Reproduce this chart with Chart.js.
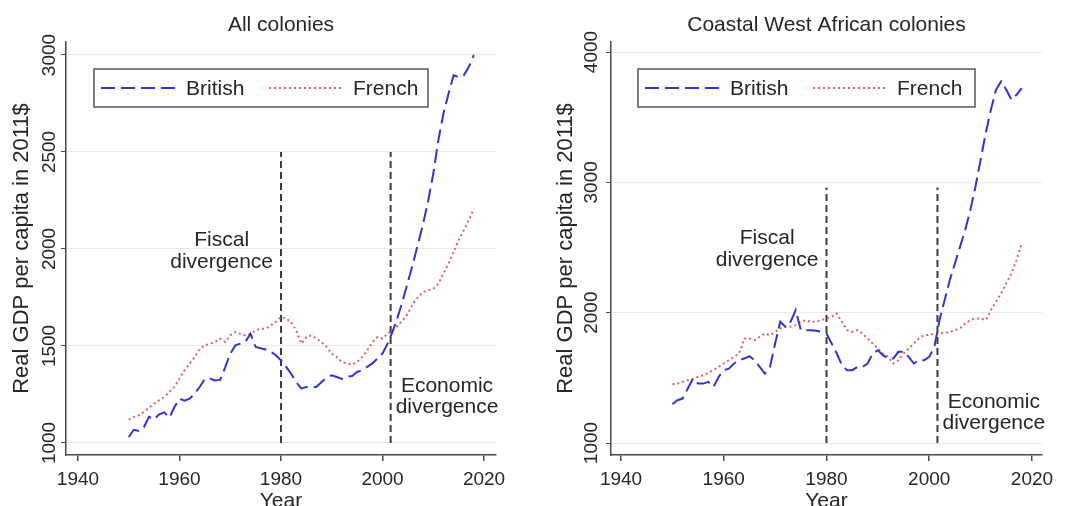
<!DOCTYPE html>
<html>
<head>
<meta charset="utf-8">
<script src="https://cdn.jsdelivr.net/npm/chart.js@4"></script>
<style>
  html, body { margin: 0; padding: 0; background: #fff; overflow: hidden; }
  #wrap { position: relative; width: 1067px; height: 506px; overflow: hidden; }
  canvas { position: absolute; top: 0; display: block; }
</style>
</head>
<body>
<div id="wrap">
  <canvas id="c1" width="533" height="520" style="left:0px"></canvas>
  <canvas id="c2" width="534" height="520" style="left:533px"></canvas>
</div>
<script>
// ---------------- data ----------------
const years = [1950,1951,1952,1953,1954,1955,1956,1957,1958,1959,
               1960,1961,1962,1963,1964,1965,1966,1967,1968,1969,
               1970,1971,1972,1973,1974,1975,1976,1977,1978,1979,
               1980,1981,1982,1983,1984,1985,1986,1987,1988,1989,
               1990,1991,1992,1993,1994,1995,1996,1997,1998,1999,
               2000,2001,2002,2003,2004,2005,2006,2007,2008,2009,
               2010,2011,2012,2013,2014,2015,2016,2017,2018];

const allBritish = [1031,1068,1062,1082,1135,1122,1148,1158,1130,1185,
                    1228,1218,1228,1254,1290,1330,1332,1322,1325,1390,
                    1460,1503,1512,1522,1563,1495,1488,1482,1470,1452,
                    1426,1392,1357,1314,1280,1289,1285,1290,1314,1338,
                    1349,1340,1330,1342,1345,1366,1376,1392,1410,1435,
                    1462,1512,1575,1650,1735,1830,1924,2027,2130,2250,
                    2388,2560,2697,2800,2895,2886,2895,2938,3000];

const allFrench = [1120,1134,1143,1160,1182,1203,1220,1237,1263,1289,
                   1332,1375,1409,1443,1486,1503,1512,1520,1538,1520,
                   1555,1572,1563,1555,1563,1580,1589,1589,1606,1624,
                   1650,1641,1624,1580,1512,1546,1555,1538,1520,1495,
                   1460,1443,1417,1409,1405,1417,1443,1478,1520,1546,
                   1538,1563,1580,1606,1632,1667,1718,1752,1778,1787,
                   1795,1821,1873,1924,1984,2045,2096,2148,2208];

const coastBritish = [1297,1328,1341,1418,1494,1456,1456,1469,1430,1507,
                      1559,1571,1610,1635,1648,1666,1635,1584,1533,1584,
                      1763,1930,1892,1930,2020,1866,1866,1866,1861,1853,
                      1840,1763,1687,1597,1559,1559,1584,1584,1610,1687,
                      1712,1674,1648,1648,1700,1700,1661,1610,1635,1635,
                      1661,1738,1943,2097,2250,2378,2506,2635,2788,2968,
                      3173,3378,3557,3711,3775,3711,3634,3672,3723];

const coastFrench = [1451,1456,1469,1482,1494,1507,1520,1538,1559,1584,
                     1610,1635,1661,1687,1802,1802,1789,1815,1840,1828,
                     1853,1879,1892,1892,1904,1930,1943,1930,1930,1943,
                     1956,1968,1994,1930,1866,1853,1866,1840,1802,1763,
                     1725,1687,1661,1610,1635,1687,1725,1763,1802,1828,
                     1828,1840,1840,1845,1853,1866,1879,1917,1943,1956,
                     1956,1943,2020,2084,2148,2225,2301,2404,2532];

const xTicks = [1940, 1960, 1980, 2000, 2020];
const allYTicks = [1000, 1500, 2000, 2500, 3000];
const coastYTicks = [1000, 2000, 3000, 4000];
const markerYears = [1980, 2001.6];
const allMarkerRange = [1000, 2500];
const coastMarkerRange = [1000, 2960];

const panelTitles = ['All colonies', 'Coastal West African colonies'];
const seriesNames = ['British', 'French'];
const yTitle = 'Real GDP per capita in 2011$';
const xTitle = 'Year';
const fiscalLabel = ['Fiscal', 'divergence'];
const economicLabel = ['Economic', 'divergence'];

// ---------------- styles ----------------
const FONT = '"Liberation Sans", Arial, Helvetica, sans-serif';
const BLUE = '#3434cc';
const RED = '#e65f5f';
const AXIS = '#4a4a4a';
const GRID = '#ebebeb';
const TEXT = '#262626';
const MARK = '#3c3c3c';
const BRIT_DASH = [14, 6];
const FR_DASH = [2, 3];

const overlay = {
  id: 'overlay',
  afterDraw(chart, args, o) {
    const { ctx, chartArea: a } = chart;
    const xs = chart.scales.x, ys = chart.scales.y;
    ctx.save();
    ctx.fillStyle = TEXT;
    ctx.textBaseline = 'middle';

    // panel title
    ctx.font = '21px ' + FONT;
    ctx.textAlign = 'center';
    ctx.fillText(o.title, (a.left + a.right) / 2, o.titleY);

    // rotated y tick labels
    ctx.font = '19px ' + FONT;
    o.yTicks.forEach(v => {
      ctx.save();
      ctx.translate(a.left - o.yLabelOff, ys.getPixelForValue(v));
      ctx.rotate(-Math.PI / 2);
      ctx.textAlign = 'center';
      ctx.fillText(String(v), 0, 1);
      ctx.restore();
    });

    // annotations
    ctx.font = '21px ' + FONT;
    ctx.textAlign = 'center';
    const wDiv = ctx.measureText(fiscalLabel[1]).width;
    const fx = xs.getPixelForValue(markerYears[0]) - 8 - wDiv / 2;
    ctx.fillText(fiscalLabel[0], fx, ys.getPixelForValue(o.fiscalY[0]));
    ctx.fillText(fiscalLabel[1], fx, ys.getPixelForValue(o.fiscalY[1]));
    const wDiv2 = ctx.measureText(economicLabel[1]).width;
    const ex = xs.getPixelForValue(markerYears[1]) + 5 + wDiv2 / 2;
    ctx.fillText(economicLabel[0], ex, ys.getPixelForValue(o.econY[0]));
    ctx.fillText(economicLabel[1], ex, ys.getPixelForValue(o.econY[1]));

    // legend box
    const bx = a.left + o.legX, by = o.legTop, bw = o.legW, bh = o.legH;
    ctx.fillStyle = '#ffffff';
    ctx.fillRect(bx, by, bw, bh);
    ctx.strokeStyle = '#555555';
    ctx.lineWidth = 1.5;
    ctx.strokeRect(bx, by, bw, bh);
    const my = by + bh / 2;
    ctx.lineWidth = 2;
    ctx.strokeStyle = BLUE;
    ctx.setLineDash(BRIT_DASH);
    ctx.beginPath(); ctx.moveTo(bx + 7, my); ctx.lineTo(bx + 83, my); ctx.stroke();
    ctx.strokeStyle = RED;
    ctx.setLineDash(FR_DASH);
    ctx.beginPath(); ctx.moveTo(bx + 175, my); ctx.lineTo(bx + 250, my); ctx.stroke();
    ctx.setLineDash([]);
    ctx.fillStyle = TEXT;
    ctx.textAlign = 'left';
    ctx.font = '21px ' + FONT;
    ctx.fillText(seriesNames[0], bx + 92, my + 1);
    ctx.fillText(seriesNames[1], bx + 259, my + 1);
    ctx.restore();
  }
};

function makeChart(id, p) {
  const markerSets = markerYears.map(m => ({
    label: 'marker',
    data: [{ x: m, y: p.markerRange[0] }, { x: m, y: p.markerRange[1] }],
    borderColor: MARK, borderWidth: 2, borderDash: [7, 4],
    pointRadius: 0, fill: false, tension: 0
  }));
  return new Chart(document.getElementById(id), {
    type: 'line',
    data: {
      datasets: [
        { label: seriesNames[0], data: years.map((yr, i) => ({ x: yr, y: p.british[i] })),
          borderColor: BLUE, borderWidth: 2, borderDash: BRIT_DASH, pointRadius: 0, fill: false, tension: 0 },
        { label: seriesNames[1], data: years.map((yr, i) => ({ x: yr, y: p.french[i] })),
          borderColor: RED, borderWidth: 2, borderDash: FR_DASH, pointRadius: 0, fill: false, tension: 0 },
        ...markerSets
      ]
    },
    options: {
      responsive: false,
      animation: false,
      events: [],
      layout: { padding: { left: p.padL, right: p.padR, top: 42, bottom: 6 } },
      plugins: {
        legend: { display: false },
        title: { display: false },
        tooltip: { enabled: false },
        overlay: p.overlay
      },
      scales: {
        x: {
          type: 'linear', min: p.xMin, max: p.xMax,
          afterBuildTicks: s => { s.ticks = xTicks.map(v => ({ value: v })); },
          afterFit: s => { s.height = 59; },
          grid: { drawOnChartArea: false, drawTicks: true, tickLength: 6, tickColor: AXIS, lineWidth: 1.5 },
          border: { color: AXIS, width: 1.5 },
          ticks: { font: { size: 19, family: FONT }, color: TEXT, padding: 7, maxRotation: 0, autoSkip: false,
                   callback: v => String(v) },
          title: { display: true, text: xTitle, font: { size: 21, family: FONT }, color: TEXT, padding: 0 }
        },
        y: {
          type: 'linear', min: p.yMin, max: p.yMax,
          afterBuildTicks: s => { s.ticks = p.yTicks.map(v => ({ value: v })); },
          afterFit: s => { s.width = p.yW; },
          grid: { color: GRID, lineWidth: 1, drawTicks: true, tickLength: 5, tickColor: AXIS },
          border: { color: AXIS, width: 1.5 },
          ticks: { display: false },
          title: { display: true, text: yTitle, font: { size: 22, family: FONT }, color: TEXT, padding: 0 }
        }
      }
    },
    plugins: [overlay]
  });
}

makeChart('c1', {
  british: allBritish, french: allFrench, yTicks: allYTicks, markerRange: allMarkerRange,
  padL: 9, padR: 37, yW: 57,
  xMin: 1937.64, xMax: 2022.36, yMin: 938, yMax: 3067,
  overlay: { title: panelTitles[0], titleY: 25, yTicks: allYTicks, yLabelOff: 17,
             fiscalY: [2046, 1933], econY: [1294, 1186],
             legX: 28, legTop: 69, legW: 334, legH: 38 }
});

makeChart('c2', {
  british: coastBritish, french: coastFrench, yTicks: coastYTicks, markerRange: coastMarkerRange,
  padL: 20, padR: 25, yW: 58,
  xMin: 1938.05, xMax: 2021.95, yMin: 908, yMax: 4077,
  overlay: { title: panelTitles[1], titleY: 25, yTicks: coastYTicks, yLabelOff: 20,
             fiscalY: [2573, 2404], econY: [1315, 1153],
             legX: 27, legTop: 69, legW: 337, legH: 38 }
});
</script>
</body>
</html>
